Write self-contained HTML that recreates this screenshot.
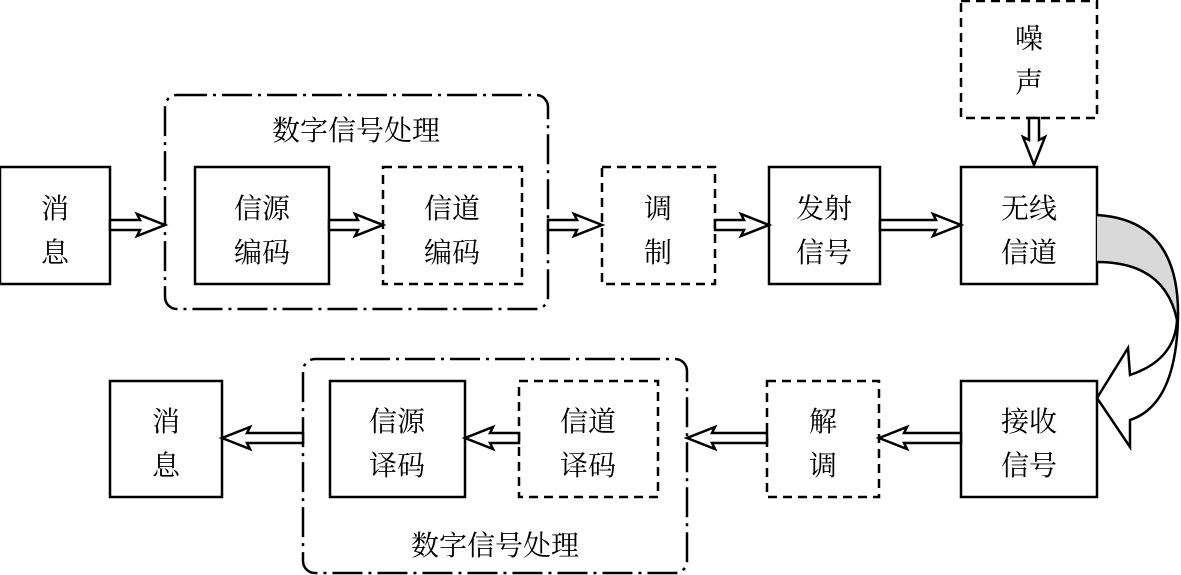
<!DOCTYPE html>
<html><head><meta charset="utf-8"><style>body{margin:0;background:#fff}svg{display:block}</style></head>
<body>
<svg width="1181" height="575" viewBox="0 0 1181 575" xmlns="http://www.w3.org/2000/svg" font-family="'Liberation Serif','Noto Serif CJK SC','Noto Sans CJK SC',serif" font-size="28" text-anchor="middle">
<g fill="none" stroke="#000" stroke-width="2.5">
<rect x="0" y="167" width="110" height="117"/>
<rect x="165" y="95" width="383" height="214" rx="12" stroke-dasharray="30,6,3,6"/>
<rect x="195" y="167" width="134" height="117"/>
<rect x="383" y="167" width="139" height="117" stroke-dasharray="9,6"/>
<rect x="602" y="167" width="113" height="117" stroke-dasharray="9,6"/>
<rect x="769" y="167" width="111" height="117"/>
<rect x="961" y="167" width="136" height="117"/>
<rect x="961" y="1" width="136" height="117" stroke-dasharray="9,6"/>
<rect x="110" y="381" width="112" height="116"/>
<rect x="303" y="359" width="384" height="214" rx="12" stroke-dasharray="30,6,3,6"/>
<rect x="330" y="381" width="135" height="116"/>
<rect x="519" y="381" width="139" height="116" stroke-dasharray="9,6"/>
<rect x="767" y="381" width="112" height="116" stroke-dasharray="9,6"/>
<rect x="961" y="381" width="136" height="116"/>
</g>
<g fill="#fff" stroke="#000" stroke-width="2.5" stroke-linejoin="miter">
<polygon points="110,220 140,220 137,214 165,225 137,236 140,230 110,230"/>
<polygon points="329,220 358,220 355,214 383,225 355,236 358,230 329,230"/>
<polygon points="548,220 577,220 574,214 602,225 574,236 577,230 548,230"/>
<polygon points="715,220 744,220 741,214 769,225 741,236 744,230 715,230"/>
<polygon points="880,220 936,220 933,214 961,225 933,236 936,230 880,230"/>
<polygon points="961,433 904,433 907,427 879,438 907,449 904,443 961,443"/>
<polygon points="767,433 712,433 715,427 687,438 715,449 712,443 767,443"/>
<polygon points="519,433 490,433 493,427 465,438 493,449 490,443 519,443"/>
<polygon points="303,433 247,433 250,427 222,438 250,449 247,443 303,443"/>
<polygon points="1029,118 1029,140 1023,137 1034,165 1045,137 1039,140 1039,118"/>
</g>
<path d="M1097,215 Q1178,220 1178,318 Q1160,262 1097,262 Z" fill="#d9d9d9"/>
<path d="M1097,215 Q1180,220 1178,318 Q1176,405 1130,420 L1130,447 L1097,398 L1128,348 L1130,375 Q1175,360 1177,320 Q1165,262 1097,262" fill="none" stroke="#000" stroke-width="2.5"/>
<g fill="#000">
<text x="55" y="218">消</text><text x="55" y="262">息</text>
<text x="356" y="140">数字信号处理</text>
<text x="262" y="218">信源</text><text x="262" y="262">编码</text>
<text x="452" y="218">信道</text><text x="452" y="262">编码</text>
<text x="658" y="218">调</text><text x="658" y="262">制</text>
<text x="824" y="218">发射</text><text x="824" y="262">信号</text>
<text x="1029" y="218">无线</text><text x="1029" y="262">信道</text>
<text x="1029" y="48">噪</text><text x="1029" y="92">声</text>
<text x="166" y="431">消</text><text x="166" y="475">息</text>
<text x="397" y="431">信源</text><text x="397" y="475">译码</text>
<text x="588" y="431">信道</text><text x="588" y="475">译码</text>
<text x="823" y="431">解</text><text x="823" y="475">调</text>
<text x="1029" y="431">接收</text><text x="1029" y="475">信号</text>
<text x="495" y="555">数字信号处理</text>
</g>
</svg>
</body></html>
